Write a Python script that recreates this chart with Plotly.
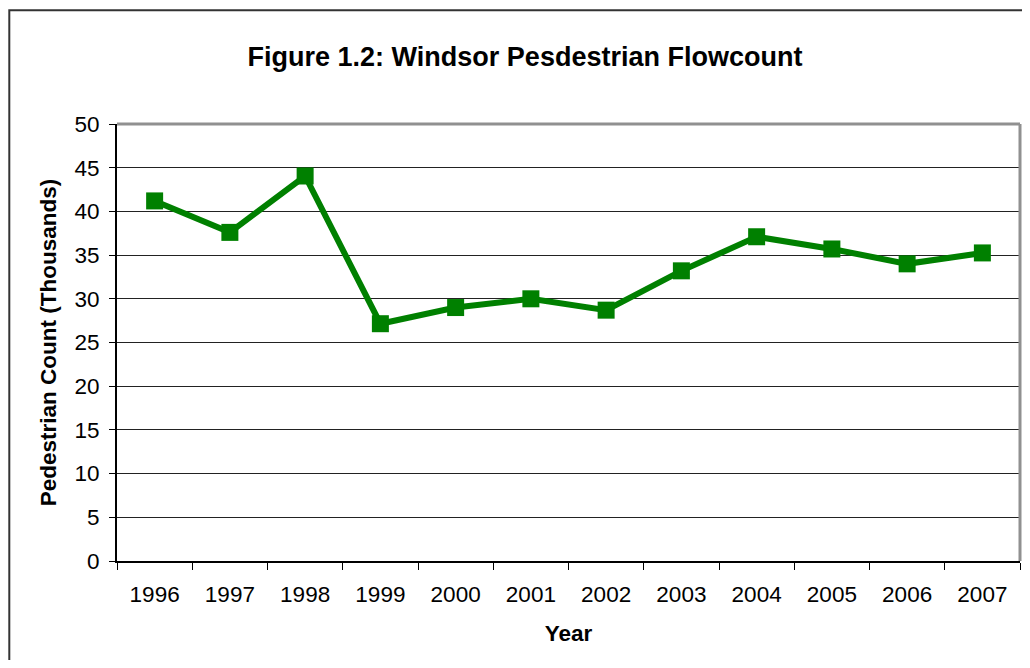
import plotly.graph_objects as go

years = ["1996", "1997", "1998", "1999", "2000", "2001", "2002", "2003", "2004", "2005", "2006", "2007"]
counts = [41.2, 37.6, 44.05, 27.15, 29.0, 30.0, 28.7, 33.2, 37.1, 35.7, 34.0, 35.25]

title_text = "Figure 1.2: Windsor Pesdestrian Flowcount"
y_title = "Pedestrian Count (Thousands)"
x_title = "Year"

# the page body adds an 8px margin; keep the figure inside the window
OFF = 8
W, H = 1030 - 2 * OFF, 668 - 2 * OFF
L, T = 117 - OFF, 124 - OFF
R = 2
B = H - (561 - OFF)
pw, ph = W - L - R, H - T - B

def px_x(p):
    return (p - OFF - L) / pw

def px_y(p):
    return (H - B - (p - OFF)) / ph

fig = go.Figure()
fig.add_trace(go.Scatter(
    x=years, y=counts, mode="lines+markers",
    line=dict(color="#008000", width=6),
    marker=dict(symbol="square", size=17, color="#008000"),
    showlegend=False, cliponaxis=False,
))

font = "Liberation Sans, Arial, sans-serif"
fig.update_layout(
    width=W, height=H,
    margin=dict(l=L, r=R, t=T, b=B),
    paper_bgcolor="white", plot_bgcolor="white",
    font=dict(family=font, color="black", size=22),
    title=dict(text="<b>" + title_text + "</b>", x=px_x(525), xref="paper", xanchor="center",
               y=1 - (57 - OFF) / H, yanchor="middle", font=dict(size=27)),
    xaxis=dict(
        type="category", range=[-0.5, len(years) - 0.5],
        tickson="boundaries", ticks="outside", ticklen=7, tickcolor="black",
        showline=True, linecolor="black", linewidth=2, showgrid=False,
        tickfont=dict(size=22.5), ticklabelstandoff=12,
        title=dict(text="<b>" + x_title + "</b>", font=dict(size=22.5), standoff=19),
    ),
    yaxis=dict(
        range=[0, 50], dtick=5, ticks="outside", ticklen=6, tickcolor="black",
        showline=True, linecolor="black", linewidth=2,
        showgrid=True, gridcolor="#222222", gridwidth=1, zeroline=False,
        tickfont=dict(size=22.5), ticklabelstandoff=5,
        title=dict(text="<b>" + y_title + "</b>", font=dict(size=22.5), standoff=12),
    ),
    shapes=[
        dict(type="line", xref="paper", yref="paper", x0=0, x1=1, y0=1, y1=1,
             line=dict(color="#909090", width=3)),
        dict(type="line", xref="paper", yref="paper", x0=1, x1=1, y0=0, y1=1,
             line=dict(color="#909090", width=3)),
        dict(type="rect", xref="paper", yref="paper",
             x0=px_x(9.3), x1=px_x(1030 + 40), y0=px_y(668 + 40), y1=px_y(10.3),
             line=dict(color="#333333", width=2), layer="below"),
    ],
)

fig.write_html("out.html")
